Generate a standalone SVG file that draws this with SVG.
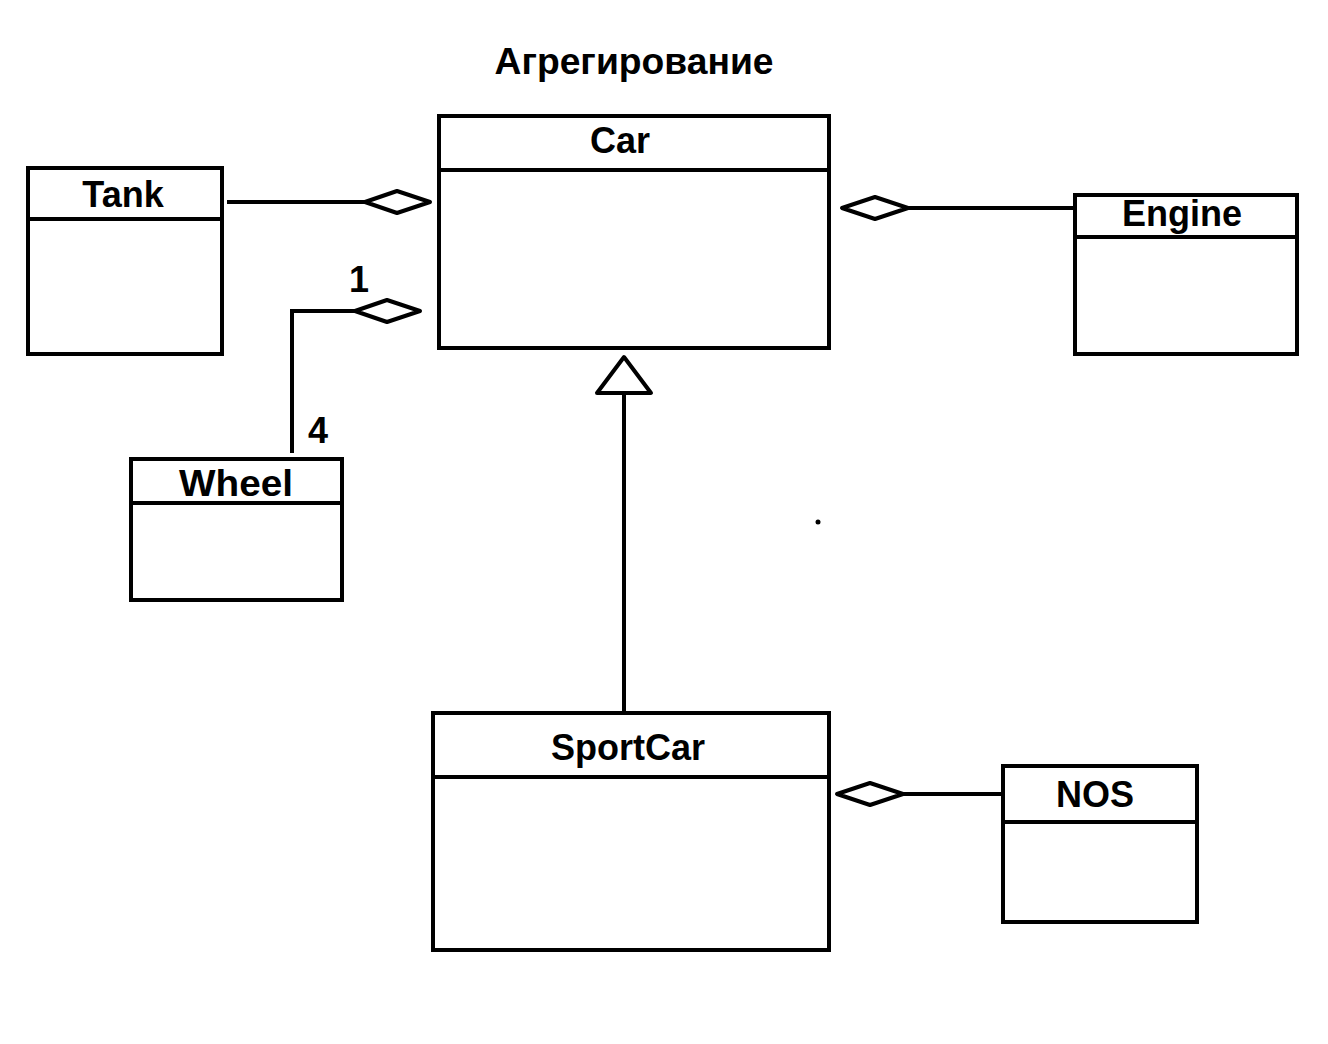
<svg xmlns="http://www.w3.org/2000/svg" width="1328" height="1044" viewBox="0 0 1328 1044">
<style>
.box{fill:#fff;stroke:#000;stroke-width:4}
.div{stroke:#000;stroke-width:4}
.lbl{font-family:"Liberation Sans",Arial,sans-serif;font-weight:bold;font-size:36px;fill:#000;text-anchor:middle}
.ln{fill:none;stroke:#000;stroke-width:4}
.dia{fill:#fff;stroke:#000;stroke-width:4;stroke-linejoin:round}
</style>
<rect width="1328" height="1044" fill="#fff"/>
<text class="lbl" x="634" y="74" textLength="279" lengthAdjust="spacingAndGlyphs">Агрегирование</text>
<g id="connectors">
<path class="ln" d="M227 202 H365"/>
<polygon class="dia" points="365,202 397,191 430,202 397,213"/>
<path class="ln" d="M292 453 V311 H355"/>
<polygon class="dia" points="355,311 387,300 420,311 387,322"/>
<text class="lbl" x="359" y="292">1</text>
<text class="lbl" x="318" y="443">4</text>
<path class="ln" d="M1074 208 H908"/>
<polygon class="dia" points="842,208 875,197 908,208 875,219"/>
<path class="ln" d="M624 712 V393"/>
<polygon class="dia" points="624,357 651,393 597,393"/>
<path class="ln" d="M1002 794 H903"/>
<polygon class="dia" points="837,794 870,783 903,794 870,805"/>
</g>
<g id="car">
<rect class="box" x="439" y="116" width="390" height="232"/>
<line class="div" x1="439" y1="170" x2="829" y2="170"/>
<text class="lbl" x="620" y="153">Car</text>
</g>
<g id="tank">
<rect class="box" x="28" y="168" width="194" height="186"/>
<line class="div" x1="28" y1="219" x2="222" y2="219"/>
<text class="lbl" x="123" y="207">Tank</text>
</g>
<g id="engine">
<rect class="box" x="1075" y="195" width="222" height="159"/>
<line class="div" x1="1075" y1="237" x2="1297" y2="237"/>
<text class="lbl" x="1182" y="226">Engine</text>
</g>
<g id="wheel">
<rect class="box" x="131" y="459" width="211" height="141"/>
<line class="div" x1="131" y1="503" x2="342" y2="503"/>
<text class="lbl" x="236" y="496" textLength="114" lengthAdjust="spacingAndGlyphs">Wheel</text>
</g>
<g id="sportcar">
<rect class="box" x="433" y="713" width="396" height="237"/>
<line class="div" x1="433" y1="777" x2="829" y2="777"/>
<text class="lbl" x="628" y="760">SportCar</text>
</g>
<g id="nos">
<rect class="box" x="1003" y="766" width="194" height="156"/>
<line class="div" x1="1003" y1="822" x2="1197" y2="822"/>
<text class="lbl" x="1095" y="807">NOS</text>
</g>
<circle cx="818" cy="522" r="2.5" fill="#000"/>
</svg>
